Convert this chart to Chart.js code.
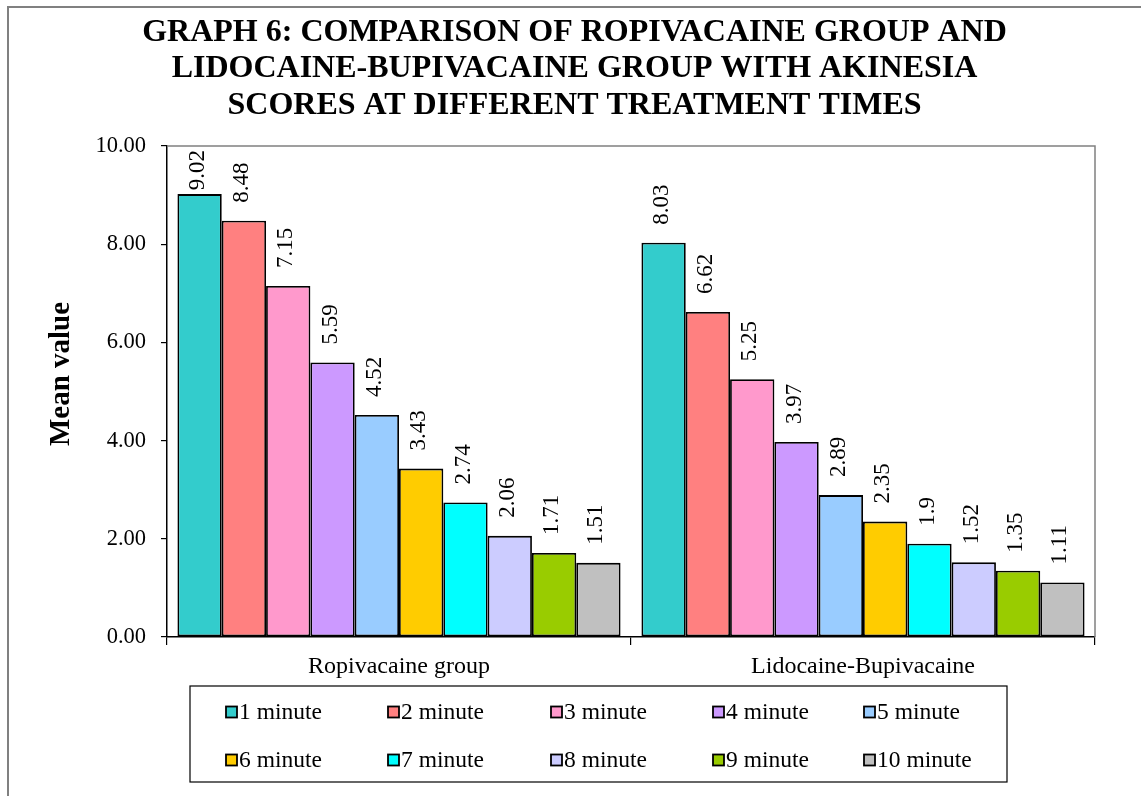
<!DOCTYPE html>
<html>
<head>
<meta charset="utf-8">
<title>Akinesia scores by treatment time</title>
<script src="https://cdn.jsdelivr.net/npm/chart.js@4.4.1/dist/chart.umd.min.js"></script>
<style>
  html, body { margin: 0; padding: 0; background: #ffffff; }
  #wrap { width: 1141px; height: 796px; position: relative; }
</style>
</head>
<body>
<div id="wrap"><canvas id="chart" width="1141" height="796"></canvas></div>
<script>
// Groups on the x axis
const categories = ['Ropivacaine group', 'Lidocaine-Bupivacaine'];
// One series per treatment time
const seriesNames = ['1 minute', '2 minute', '3 minute', '4 minute', '5 minute',
                     '6 minute', '7 minute', '8 minute', '9 minute', '10 minute'];
// Mean akinesia scores
const ropivacaineValues = [9.02, 8.48, 7.15, 5.59, 4.52, 3.43, 2.74, 2.06, 1.71, 1.51];
const lidoBupiValues    = [8.03, 6.62, 5.25, 3.97, 2.89, 2.35, 1.9, 1.52, 1.35, 1.11];
const seriesColors = ['#33CCCC', '#FF8080', '#FF99CC', '#CC99FF', '#99CCFF',
                      '#FFCC00', '#00FFFF', '#CCCCFF', '#99CC00', '#C0C0C0'];
const titleLines = ['GRAPH 6: COMPARISON OF ROPIVACAINE GROUP AND',
                    'LIDOCAINE-BUPIVACAINE GROUP WITH AKINESIA',
                    'SCORES AT DIFFERENT TREATMENT TIMES'];
const yAxisTitle = 'Mean value';

const SERIF = '"Liberation Serif", "Times New Roman", serif';

const datasets = seriesNames.map((name, i) => ({
  label: name,
  data: [ropivacaineValues[i], lidoBupiValues[i]],
  backgroundColor: seriesColors[i],
  borderColor: '#000000',
  borderWidth: 1.8,
  borderSkipped: false,
  categoryPercentage: 0.955,
  barPercentage: 1.0
}));

// Outer frame lines plus grey top/right edges of the plot box
const framePlugin = {
  id: 'frame',
  beforeDraw(chart) {
    const ctx = chart.ctx;
    ctx.save();
    ctx.fillStyle = '#ffffff';
    ctx.fillRect(0, 0, chart.width, chart.height);
    ctx.strokeStyle = '#808080';
    ctx.lineWidth = 2;
    ctx.beginPath();
    ctx.moveTo(8, chart.height);
    ctx.lineTo(8, 7);
    ctx.lineTo(chart.width, 7);
    ctx.stroke();
    ctx.restore();
  },
  beforeDatasetsDraw(chart) {
    const a = chart.chartArea;
    const ctx = chart.ctx;
    ctx.save();
    ctx.strokeStyle = '#808080';
    ctx.lineWidth = 1.5;
    ctx.beginPath();
    ctx.moveTo(a.left, a.top);
    ctx.lineTo(a.right, a.top);
    ctx.lineTo(a.right, a.bottom);
    ctx.stroke();
    ctx.restore();
  }
};

// Vertical value labels above each bar
const valueLabelPlugin = {
  id: 'valueLabels',
  afterDatasetsDraw(chart) {
    const ctx = chart.ctx;
    const top = chart.chartArea.top;
    ctx.save();
    ctx.font = '23px ' + SERIF;
    ctx.fillStyle = '#000000';
    ctx.textAlign = 'left';
    ctx.textBaseline = 'middle';
    chart.data.datasets.forEach((ds, di) => {
      const meta = chart.getDatasetMeta(di);
      meta.data.forEach((bar, idx) => {
        const text = String(ds.data[idx]);
        const w = ctx.measureText(text).width;
        let start = bar.y - 18;
        if (start - w < top + 4) start = top + 4 + w;
        ctx.save();
        ctx.translate(bar.x - 2, start);
        ctx.rotate(-Math.PI / 2);
        ctx.fillText(text, 0, 0);
        ctx.restore();
      });
    });
    ctx.restore();
  }
};

// Rotated y axis title
const yTitlePlugin = {
  id: 'yTitle',
  afterDraw(chart) {
    const ctx = chart.ctx;
    ctx.save();
    ctx.font = 'bold 29px ' + SERIF;
    ctx.fillStyle = '#000000';
    ctx.textAlign = 'center';
    ctx.textBaseline = 'middle';
    ctx.translate(62, 374);
    ctx.rotate(-Math.PI / 2);
    ctx.fillText(yAxisTitle, 0, 0);
    ctx.restore();
  }
};

// Boxed two-row legend under the axis
const legendBoxPlugin = {
  id: 'legendBox',
  afterDraw(chart) {
    const ctx = chart.ctx;
    const box = { x: 190, y: 686, w: 817, h: 96 };
    const colX = [226, 388, 551, 713, 864];
    const rowY = [712, 760];
    const sw = 11;
    ctx.save();
    ctx.strokeStyle = '#000000';
    ctx.lineWidth = 1.2;
    ctx.strokeRect(box.x, box.y, box.w, box.h);
    ctx.font = '23.5px ' + SERIF;
    ctx.textAlign = 'left';
    ctx.textBaseline = 'middle';
    chart.data.datasets.forEach((ds, i) => {
      const cx = colX[i % 5];
      const cy = rowY[Math.floor(i / 5)];
      ctx.fillStyle = ds.backgroundColor;
      ctx.fillRect(cx, cy - sw / 2, sw, sw);
      ctx.lineWidth = 1.8;
      ctx.strokeStyle = '#000000';
      ctx.strokeRect(cx, cy - sw / 2, sw, sw);
      ctx.fillStyle = '#000000';
      ctx.fillText(ds.label, cx + sw + 2, cy + 1);
    });
    ctx.restore();
  }
};

new Chart(document.getElementById('chart'), {
  type: 'bar',
  data: { labels: categories, datasets: datasets },
  options: {
    responsive: false,
    animation: false,
    layout: { padding: { left: 8, right: 0, top: 0, bottom: 0 } },
    plugins: {
      legend: { display: false },
      tooltip: { enabled: false },
      title: {
        display: true,
        text: titleLines,
        color: '#000000',
        font: { family: SERIF, size: 32, weight: 'bold', lineHeight: 1.15 },
        padding: { top: 14, bottom: 21.6 }
      }
    },
    scales: {
      x: {
        grid: { offset: true, drawOnChartArea: false, drawTicks: true, tickLength: 8, color: '#000000', lineWidth: 1.2 },
        border: { color: '#000000', width: 1.5 },
        ticks: { color: '#000000', font: { family: SERIF, size: 24 }, padding: 7 },
        afterFit(scale) { scale.height = 159; }
      },
      y: {
        min: 0,
        max: 10,
        ticks: {
          stepSize: 2,
          color: '#000000',
          font: { family: SERIF, size: 22.5 },
          padding: 15,
          callback: (v) => Number(v).toFixed(2)
        },
        grid: { drawOnChartArea: false, drawTicks: true, tickLength: 6, color: '#000000', lineWidth: 1.2 },
        border: { color: '#000000', width: 1.5 },
        afterFit(scale) { scale.width = 159; }
      },
      yRight: {
        position: 'right',
        display: true,
        grid: { display: false },
        border: { display: false },
        ticks: { display: false },
        afterFit(scale) { scale.width = 46; }
      }
    }
  },
  plugins: [framePlugin, valueLabelPlugin, yTitlePlugin, legendBoxPlugin]
});
</script>
</body>
</html>
